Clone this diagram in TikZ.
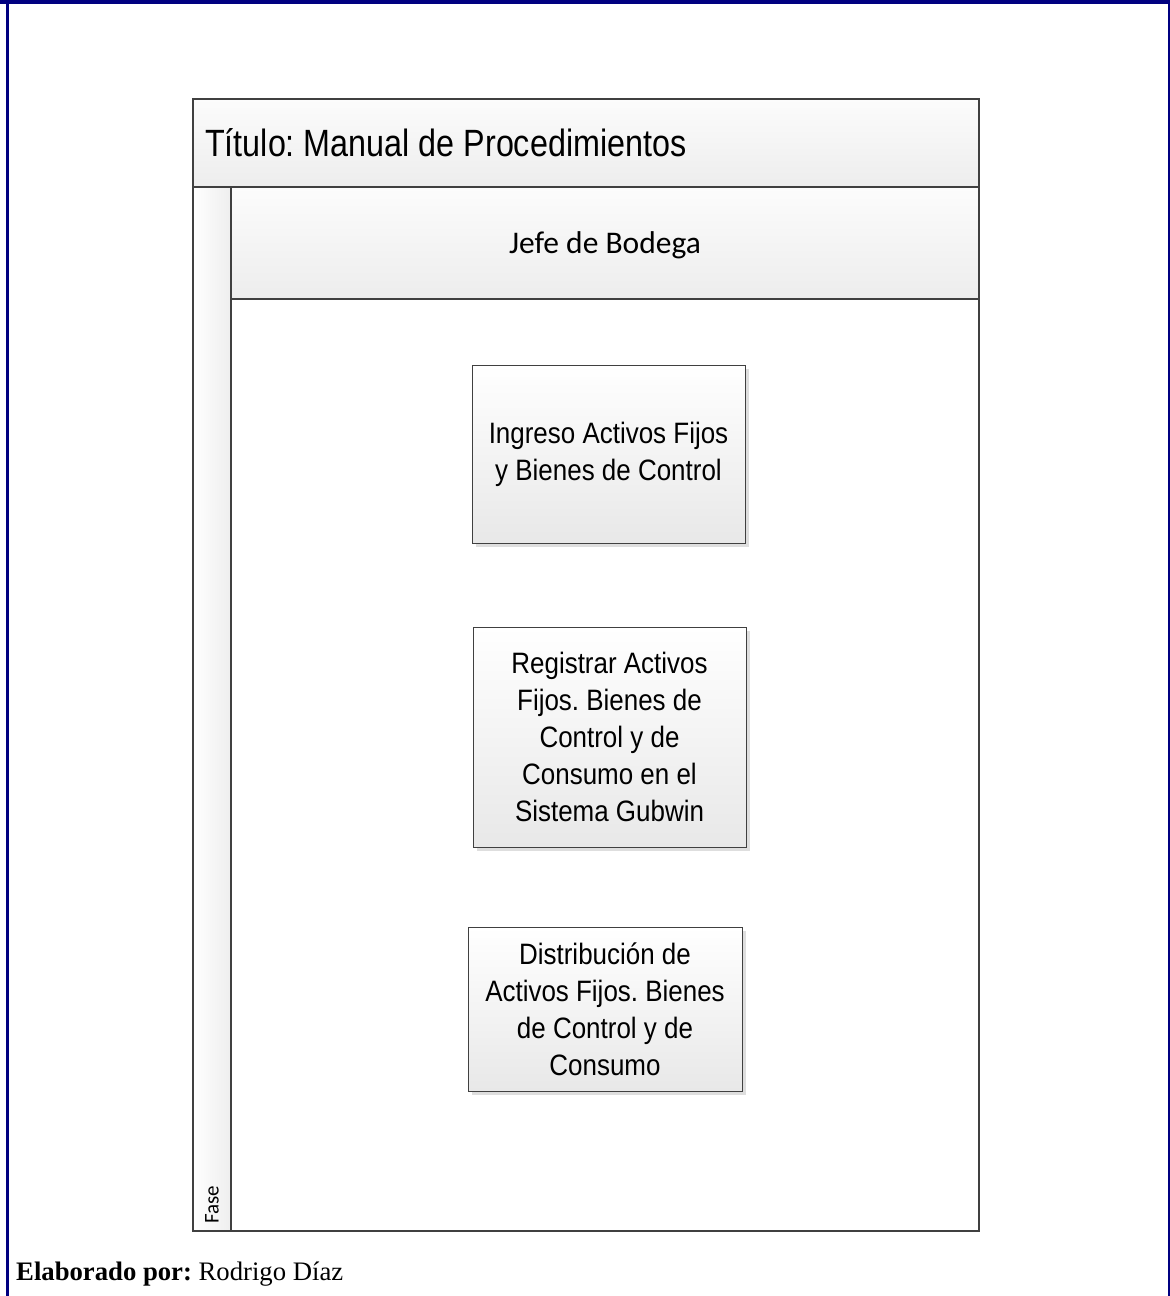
\documentclass[tikz,border=0pt]{standalone}
\usepackage{fontspec}
\setmainfont{Liberation Serif}
\newfontfamily\narrowsans[FakeStretch=0.88]{Liberation Sans}
\newfontfamily\titlesans[FakeStretch=0.85]{Liberation Sans}
\newfontfamily\calib{Carlito}
\usetikzlibrary{shadows}

\definecolor{framenavy}{HTML}{000080}
\definecolor{linegray}{HTML}{404040}
\definecolor{bandtop}{HTML}{FCFCFC}
\definecolor{bandbot}{HTML}{EDEDED}
\definecolor{boxbot}{HTML}{E8E8E8}
\definecolor{stripgray}{HTML}{EEEEEE}

\tikzset{
  poolline/.style={draw=linegray, line width=2pt},
  proc/.style={draw=linegray, line width=1pt, top color=white, bottom color=boxbot,
    drop shadow={shadow xshift=4pt, shadow yshift=-4pt, fill=black!18, opacity=0.7},
    align=center, inner sep=0pt,
    font=\narrowsans\frenchspacing\fontsize{29.5}{37}\selectfont},
}

\begin{document}
\frenchspacing
\begin{tikzpicture}[x=1pt,y=-1pt]
\useasboundingbox (0,0) rectangle (1170,1296);
\fill[white] (0,0) rectangle (1170,1296);

% page frame
\fill[framenavy] (0,0) rectangle (1170,3.5);
\fill[framenavy] (6,0) rectangle (8.5,1296);
\fill[framenavy] (1167.5,0) rectangle (1170,1296);

% pool: title band, phase strip, lane header, lane body
\draw[poolline, top color=bandtop, bottom color=bandbot] (193,99) rectangle (979,187);
\draw[poolline, left color=white, right color=stripgray] (193,187) rectangle (231,1231);
\draw[poolline, top color=bandtop, bottom color=bandbot] (231,187) rectangle (979,299);
\draw[poolline] (231,299) rectangle (979,1231);

\node[anchor=base west, inner sep=0pt, font=\titlesans\frenchspacing\fontsize{38}{44}\selectfont]
  (title) at (205,156) {Título: Manual de Procedimientos};
\node[inner sep=0pt, font=\calib\fontsize{31.5}{36}\selectfont]
  (lane) at (605,245) {Jefe de Bodega};
\node[rotate=90, anchor=west, inner sep=0pt, font=\calib\fontsize{21}{24}\selectfont]
  (phase) at (212,1224) {Fase};

% activities
\node[proc, minimum width=273pt, minimum height=178pt] (p1) at (608.5,454)
  {Ingreso Activos Fijos\\y Bienes de Control};
\node[proc, minimum width=273pt, minimum height=220pt] (p2) at (609.5,737)
  {Registrar Activos\\Fijos. Bienes de\\Control y de\\Consumo en el\\Sistema Gubwin};
\node[proc, minimum width=274pt, minimum height=164pt] (p3) at (605,1009)
  {Distribución de\\Activos Fijos. Bienes\\de Control y de\\Consumo};

\node[anchor=base west, inner sep=0pt, font=\fontsize{26.7}{30}\selectfont]
  (footer) at (16,1280) {\textbf{Elaborado por:} Rodrigo Díaz};
\end{tikzpicture}
\end{document}
